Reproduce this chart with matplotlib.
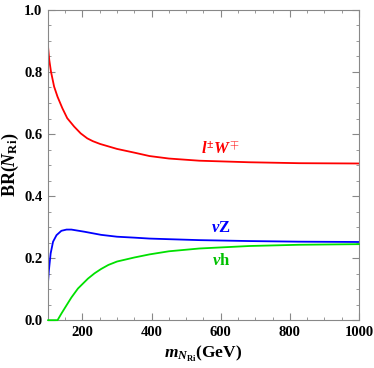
"""
Branching ratios of the right-handed neutrino N_Ri versus its mass.
"""

import matplotlib.pyplot as plt
from matplotlib.ticker import MultipleLocator

plt.rcParams["font.family"] = "Liberation Serif"
plt.rcParams["font.weight"] = "bold"
plt.rcParams["mathtext.fontset"] = "custom"
plt.rcParams["mathtext.rm"] = "Liberation Serif:bold"
plt.rcParams["mathtext.it"] = "Liberation Serif:bold:italic"
plt.rcParams["mathtext.bf"] = "Liberation Serif:bold"

# masses (GeV) and branching ratios
m_lw = [100, 104, 109, 118, 128, 142, 156, 176, 195, 214, 230, 251, 300,
        350, 394, 450, 538, 682, 826, 1000]
br_lw = [0.887, 0.839, 0.801, 0.753, 0.720, 0.683, 0.651, 0.624, 0.602,
         0.586, 0.577, 0.568, 0.552, 0.540, 0.529, 0.521, 0.514, 0.509,
         0.506, 0.505]

m_nz = [100, 103, 108, 115, 125, 139, 154, 168, 206, 254, 300, 350, 394,
        450, 538, 682, 826, 1000]
br_nz = [0.116, 0.161, 0.215, 0.253, 0.274, 0.288, 0.292, 0.292, 0.285,
         0.275, 0.269, 0.266, 0.263, 0.261, 0.258, 0.255, 0.253, 0.252]

m_nh = [100, 128, 139, 154, 168, 187, 216, 235, 254, 275, 300, 350, 394,
        450, 538, 682, 826, 1000]
br_nh = [0.0, 0.0, 0.021, 0.048, 0.073, 0.102, 0.134, 0.151, 0.165, 0.178,
         0.189, 0.202, 0.212, 0.222, 0.231, 0.239, 0.243, 0.245]

fig = plt.figure(figsize=(3.74, 3.68), dpi=100)
ax = fig.add_axes([0.128, 0.130, 0.832, 0.843])

line_kw = dict(lw=1.3, solid_joinstyle="round", solid_capstyle="round")
ax.plot(m_lw, br_lw, color="#ff0000", **line_kw)
ax.plot(m_nz, br_nz, color="#0000ff", **line_kw)
ax.plot(m_nh, br_nh, color="#00e000", clip_on=False, zorder=3, **line_kw)

ax.text(600, 0.548, r"$l^{\pm}W^{\mp}$", color="#ff0000", fontsize=12,
        ha="center", va="center")
ax.text(600, 0.298, r"$\nu$Z", color="#0000ff", fontsize=12,
        ha="center", va="center", fontweight="bold")
ax.text(600, 0.192, r"$\nu$h", color="#00c000", fontsize=12,
        ha="center", va="center", fontweight="bold")

ax.set_xlim(100, 1000)
ax.set_ylim(0, 1)
ax.xaxis.set_major_locator(MultipleLocator(200))
ax.xaxis.set_minor_locator(MultipleLocator(50))
ax.yaxis.set_major_locator(MultipleLocator(0.2))
ax.yaxis.set_minor_locator(MultipleLocator(0.05))
ax.yaxis.set_major_formatter(lambda v, p: f"{v:.1f}")
ax.tick_params(which="both", direction="in", top=True, right=True,
               color="#888888", labelsize=10.5, pad=4)
ax.tick_params(which="major", length=5)
ax.tick_params(which="minor", length=2.5)
for sp in ax.spines.values():
    sp.set_color("#888888")
    sp.set_linewidth(0.8)

ax.set_xlabel(r"$m_{N_{\mathrm{Ri}}}$(GeV)", fontsize=12.5, fontweight="bold")
ax.set_ylabel(r"BR($N_{\mathrm{Ri}}$)", fontsize=13, fontweight="bold",
              labelpad=2)

fig.savefig("out.png", dpi=100)
